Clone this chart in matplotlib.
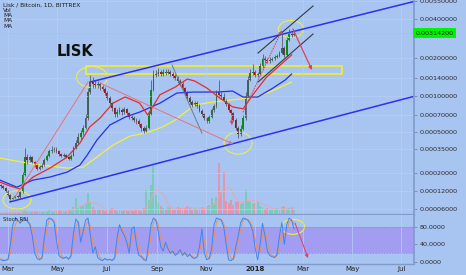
import numpy as np
import pandas as pd
import matplotlib
matplotlib.use("Agg")
import matplotlib.pyplot as plt
import matplotlib.transforms as mtransforms
from matplotlib.patches import Ellipse, Rectangle
from matplotlib.ticker import NullLocator

W, H, DPI = 466, 275, 100
BG = "#a8c4f1"

# ---------------- data (x = days since 2017-03-01) ----------------
first_day = -9          # first candle (20 Feb 2017)
step_days = 3           # one candle every 3 days
first_open = 0.000142
closes = [
    0.000138, 0.00013, 0.00012, 0.000105, 0.000092, 0.000095, 0.0001, 0.000098, 0.000115, 0.00019,
    0.00029, 0.00027, 0.00029, 0.00026, 0.00024, 0.00022, 0.00023, 0.00024, 0.00027, 0.0003,
    0.00033, 0.00034, 0.00035, 0.00033, 0.00031, 0.0003, 0.000302, 0.00029, 0.00028, 0.0003,
    0.00036, 0.0004, 0.00045, 0.00049, 0.00054, 0.00066, 0.00109, 0.00131, 0.00127, 0.00124,
    0.00127, 0.00119, 0.00115, 0.00107, 0.00097, 0.00088, 0.0008, 0.00071, 0.00074, 0.00077,
    0.00074, 0.00078, 0.00073, 0.00068, 0.00066, 0.00064, 0.00062, 0.00059, 0.00054, 0.00051,
    0.00054, 0.00071, 0.00113, 0.00149, 0.00151, 0.00157, 0.00151, 0.00157, 0.00154, 0.00157,
    0.00151, 0.00146, 0.00141, 0.00133, 0.00126, 0.00117, 0.00107, 0.00097, 0.0009, 0.00085,
    0.00088, 0.00083, 0.00076, 0.00071, 0.00066, 0.00062, 0.00068, 0.00077, 0.00083, 0.00108,
    0.00103, 0.00099, 0.00094, 0.00087, 0.00077, 0.00073, 0.00064, 0.00054, 0.00048, 0.00053,
    0.00066, 0.001, 0.00136, 0.00154, 0.00157, 0.00149, 0.00151, 0.00175, 0.002, 0.00195,
    0.00192, 0.00195, 0.00198, 0.00205, 0.00209, 0.00221, 0.00241, 0.00213, 0.0028, 0.0031,
    0.00305, 0.003142]
highs = [
    0.000148, 0.000141, 0.000133, 0.000122, 0.000108, 0.000099, 0.000104, 0.000106, 0.00012, 0.000205,
    0.00036, 0.00031, 0.000305, 0.000298, 0.000268, 0.000248, 0.000242, 0.000252, 0.000282, 0.000315,
    0.00035, 0.00037, 0.000365, 0.000362, 0.000342, 0.000322, 0.000318, 0.000312, 0.000298, 0.000312,
    0.000375, 0.00042, 0.00049, 0.00052, 0.00058, 0.00072, 0.00118, 0.00148, 0.00142, 0.00136,
    0.00134, 0.00131, 0.00124, 0.00119, 0.00111, 0.001, 0.0009, 0.00082, 0.00079, 0.00082,
    0.0008, 0.00082, 0.0008, 0.00075, 0.0007, 0.00069, 0.00066, 0.00065, 0.0006, 0.00056,
    0.00058, 0.00076, 0.00135, 0.00162, 0.00164, 0.00168, 0.00163, 0.00167, 0.00165, 0.00166,
    0.00162, 0.00157, 0.0015, 0.00145, 0.00137, 0.0013, 0.0012, 0.0011, 0.001, 0.00093,
    0.00092, 0.00091, 0.00086, 0.00078, 0.00073, 0.00068, 0.0007, 0.0008, 0.00087, 0.00112,
    0.00135, 0.00108, 0.00106, 0.00096, 0.00089, 0.00079, 0.00075, 0.00066, 0.00056, 0.00058,
    0.0007, 0.00108, 0.00145, 0.00165, 0.0018, 0.00162, 0.00158, 0.00185, 0.00215, 0.00208,
    0.00202, 0.00204, 0.00207, 0.00214, 0.00218, 0.0023, 0.0031, 0.00248, 0.00295, 0.00335,
    0.00322, 0.00325]
lows = [
    0.000132, 0.000126, 0.000116, 0.0001, 0.000088, 0.00009, 0.000093, 0.000095, 0.000096, 0.000112,
    0.000185, 0.00025, 0.000262, 0.000252, 0.000232, 0.000212, 0.000215, 0.000224, 0.000236, 0.000265,
    0.000292, 0.000322, 0.000328, 0.00032, 0.0003, 0.00029, 0.00029, 0.000282, 0.00027, 0.000274,
    0.000295, 0.000352, 0.000392, 0.00043, 0.00047, 0.00053, 0.00064, 0.00104, 0.00118, 0.00116,
    0.00117, 0.00113, 0.0011, 0.00102, 0.00093, 0.00085, 0.00076, 0.00068, 0.00068, 0.00071,
    0.0007, 0.00072, 0.0007, 0.00065, 0.00063, 0.00061, 0.00059, 0.00056, 0.00051, 0.00049,
    0.0005, 0.00053, 0.0007, 0.0011, 0.00142, 0.00146, 0.00145, 0.00147, 0.00148, 0.0015,
    0.00146, 0.0014, 0.00136, 0.00128, 0.00121, 0.00113, 0.00103, 0.00094, 0.00087, 0.00082,
    0.00083, 0.0008, 0.00074, 0.00069, 0.00064, 0.0006, 0.0006, 0.00066, 0.00075, 0.00081,
    0.001, 0.00096, 0.00091, 0.00084, 0.00075, 0.0007, 0.00062, 0.00052, 0.00044, 0.00046,
    0.00052, 0.00064, 0.00098, 0.00132, 0.00148, 0.00142, 0.00143, 0.00148, 0.0017, 0.00186,
    0.00184, 0.00186, 0.0019, 0.00193, 0.002, 0.00205, 0.00218, 0.00205, 0.0021, 0.00272,
    0.00295, 0.003]
volumes = [
    2, 2, 3, 2, 3, 2, 3, 2, 3, 4, 5,
    4, 3, 3, 4, 3, 3, 4, 3, 4, 5, 4, 3, 4, 5, 4, 3, 4, 5, 6,
    8, 17, 7, 9, 10, 12, 22, 13,
    8, 6, 5, 6, 5, 4, 5, 6, 7, 5, 4, 5, 4, 5, 4, 4, 5, 4, 6, 5, 4, 7,
    25, 15, 30, 50, 20, 12,
    9, 7, 6, 8, 7, 6, 5, 8, 7, 6, 7, 9, 8, 6, 7, 5, 6, 8, 7, 9,
    10, 17, 12, 18, 52, 23, 43, 14, 12, 15, 10, 13, 14, 11, 12, 25, 14,
    13, 11, 12, 13, 9,
    8, 6, 7, 5, 6, 5, 7, 6, 8, 9, 6, 7, 8, 6]
stoch_k = [
    5, 3, 4, 6, 40, 85, 100, 95, 88, 96, 100, 92, 85, 60, 20, 8, 5, 10, 55, 95,
    100, 98, 90, 50, 15, 10, 8, 12, 6, 15, 65, 98, 90, 45, 70, 95, 100, 60, 20, 35,
    10, 5, 3, 8, 4, 6, 3, 10, 55, 85, 70, 60, 45, 20, 75, 80, 40, 15, 12, 5,
    3, 40, 85, 100, 95, 70, 35, 25, 45, 30, 20, 25, 15, 20, 28, 15, 22, 12, 18, 10,
    8, 12, 35, 75, 20, 5, 8, 30, 85, 100, 98, 95, 80, 40, 5, 3, 8, 35, 60, 90,
    100, 98, 95, 85, 70, 30, 5, 40, 88, 60, 25, 15, 12, 10, 18, 60, 90, 40, 85, 100,
    95, 75]
stoch_d = [
    8, 5, 4, 5, 20, 55, 85, 95, 92, 92, 97, 95, 88, 75, 45, 20, 8, 7, 30, 75,
    97, 98, 95, 75, 38, 15, 10, 10, 9, 10, 40, 80, 93, 70, 60, 80, 95, 82, 45, 32,
    22, 10, 5, 6, 6, 5, 5, 6, 30, 70, 78, 65, 55, 35, 45, 75, 62, 30, 15, 9,
    5, 20, 60, 90, 97, 85, 55, 35, 38, 35, 25, 23, 20, 18, 22, 20, 18, 17, 15, 13,
    10, 10, 22, 55, 50, 15, 7, 18, 55, 90, 98, 97, 88, 62, 25, 8, 5, 20, 45, 75,
    95, 99, 97, 90, 78, 52, 20, 22, 62, 75, 45, 22, 15, 12, 14, 38, 75, 62, 65, 92,
    97, 85]

ma_red_days = [-10, 3, 15, 31, 52, 73, 89, 101, 114, 130, 145, 163, 173, 188, 207, 222, 231,
               246, 262, 278, 291, 303, 320, 337, 351]
ma_red = [0.000155, 0.000138, 0.000127, 0.000178, 0.000224, 0.00029, 0.000396, 0.000552, 0.00066,
          0.00088, 0.00099, 0.00088, 0.0007, 0.00103, 0.00119, 0.00138, 0.00133, 0.00117, 0.00097,
          0.00082, 0.00079, 0.00103, 0.00143, 0.00178, 0.00213]
ma_blue_days = [-10, 11, 31, 52, 73, 89, 98, 110, 126, 145, 163, 188, 209, 229, 259, 278, 291,
                309, 328, 343, 351]
ma_blue = [0.000164, 0.000134, 0.000164, 0.000178, 0.000202, 0.000241, 0.000304, 0.000422,
           0.000575, 0.000673, 0.000742, 0.00088, 0.001065, 0.001085, 0.001085, 0.001105,
           0.000988, 0.000988, 0.001169, 0.001354, 0.001511]
ma_yellow_days = [-10, 31, 73, 93, 105, 130, 151, 170, 191, 207, 231, 254, 287, 306, 324, 351]
ma_yellow = [0.000284, 0.000247, 0.000224, 0.000229, 0.000271, 0.000379, 0.000459, 0.000488,
             0.000552, 0.000635, 0.00085, 0.000899, 0.000952, 0.000988, 0.001085, 0.001305]

last_price = 0.003142
price_ticks = [0.0055, 0.004, 0.002, 0.0014, 0.001, 0.0007, 0.0005, 0.00035, 0.0002, 0.00012, 0.00006]
stoch_ticks = [0, 40, 80]
month_days = [0, 61, 122, 184, 245, 306, 365, 426, 487]
month_labels = ["Mar", "May", "Jul", "Sep", "Nov", "2018", "Mar", "May", "Jul"]

# drawings (day, price)
channel_upper = ([101.5, 502.5], [0.001305, 0.005453])
channel_lower = ([2.5, 502.5], [0.000082, 0.001001])
zone_days = (96.5, 413.4)
zone_prices = (0.001511, 0.001747)
black_upper = ([309.4, 377.5], [0.002205, 0.005041])
black_lower = ([309.4, 377.5], [0.001305, 0.003088])
gray_line = ([203, 240], [0.001779, 0.000488])
pink_up = ((6.2, 0.000088), (99.0, 0.001305))
pink_down = ((113.9, 0.001281), (278.5, 0.000388))
red_small = ((277, 0.000673), (277, 0.000575))
red_dotted = ((291, 0.000742), (339, 0.0033))
red_big = ((352.7, 0.003372), (376.2, 0.001625))
stoch_arrow = ((355.2, 89), (371.3, 9))
ellipses = [(11.1, 0.000088, 28, 18), (104, 0.00143, 31, 21), (284.7, 0.000396, 28, 22),
            (350.2, 0.00337, 25, 17)]
stoch_ellipse = (352.7, 80, 23, 15)

# ---------------- figure ----------------
fig = plt.figure(figsize=(W / DPI, H / DPI), dpi=DPI, facecolor=BG)
def fy(py):
    return 1 - py / H
main_rect = [0, fy(215), 414 / W, 215 / H]
stoch_rect = [0, fy(264), 414 / W, 49 / H]
XL = (-9.9, 502.5)

ax_vol = fig.add_axes(main_rect)
ax_vol.set_axis_off()
ax = fig.add_axes(main_rect)
ax.patch.set_alpha(0)
ax2 = fig.add_axes(stoch_rect, facecolor=BG)

days = first_day + step_days * np.arange(len(closes))
c = np.array(closes)
o = np.array([first_open] + closes[:-1])
up = c >= o

# volume
vcol = np.where(up, "#78cdb6", "#e594ad")
ax_vol.bar(days, volumes, width=2.4, color=vcol, alpha=0.95, lw=0)
vma = pd.Series(volumes).rolling(6, min_periods=1).mean()
ax_vol.plot(days, vma, color="#eea3a8", lw=0.7, alpha=0.8)
ax_vol.set_ylim(0, 215)
ax_vol.set_xlim(*XL)

# price scale
fwd = lambda p: np.log10(np.asarray(p, dtype=float) + 0.0001)
inv = lambda v: 10 ** np.asarray(v, dtype=float) - 0.0001
ax.set_yscale("function", functions=(fwd, inv))
ax.set_ylim(0.0000455, 0.005595)
ax.set_xlim(*XL)

ax.set_xticks(month_days)
ax.tick_params(axis="x", length=0, labelbottom=False)
ax.yaxis.tick_right()
ax.set_yticks(price_ticks)
ax.set_yticklabels(["%.8f" % t for t in price_ticks])
ax.yaxis.set_minor_locator(NullLocator())
ax.tick_params(axis="y", length=2, width=0.6, color="#6f86b8", pad=2,
               labelsize=4.6, labelcolor="#2b2b2b")
ax.grid(True, color="#b7cff6", lw=0.5)
for s in ["top", "left"]:
    ax.spines[s].set_visible(False)
ax.spines["right"].set_color("#8199cb")
ax.spines["right"].set_linewidth(1.2)
ax.spines["bottom"].set_color("#8199cb")
ax.spines["bottom"].set_linewidth(1.6)

ax.axhline(last_price, color="#7fd8e4", lw=0.6)

# channel + zone
ax.plot(*channel_upper, color="#2f2ff0", lw=1.1)
ax.plot(*channel_lower, color="#2f2ff0", lw=1.1)
ax.add_patch(Rectangle((zone_days[0], zone_prices[0]), zone_days[1] - zone_days[0],
                       zone_prices[1] - zone_prices[0], fill=False, ec="#f3ef2e", lw=1.2))

# moving averages
ax.plot(ma_yellow_days, ma_yellow, color="#f4f03a", lw=0.9)
ax.plot(ma_blue_days, ma_blue, color="#2430e6", lw=0.9)
ax.plot(ma_red_days, ma_red, color="#ea2a2a", lw=0.9)

# candles
ax.vlines(days, lows, highs, color="#4f5560", lw=0.55)
ccol = np.where(up, "#0f8a19", "#9b1620")
ax.bar(days, np.abs(c - o), bottom=np.minimum(o, c), width=2.3, color=ccol, lw=0)

# drawings
ax.plot(*gray_line, color="#6f7a8a", lw=0.7)
ax.plot(*black_upper, color="#333a44", lw=0.8)
ax.plot(*black_lower, color="#333a44", lw=0.8)

def arrow(a, start, end, color, ls="-", lw=0.7):
    a.annotate("", xy=end, xytext=start,
               arrowprops=dict(arrowstyle="-|>", color=color, lw=lw, ls=ls,
                               mutation_scale=5, shrinkA=0, shrinkB=0))

ax.plot([pink_up[0][0], pink_up[1][0]], [pink_up[0][1], pink_up[1][1]], color="#e7737f", lw=0.7)
arrow(ax, pink_down[0], pink_down[1], "#e7737f")
arrow(ax, red_small[0], red_small[1], "#e2405a")
arrow(ax, red_dotted[0], red_dotted[1], "#e2405a", ls=":")
arrow(ax, red_big[0], red_big[1], "#e2405a", lw=0.9)

for (d, p, w, h) in ellipses:
    tr = mtransforms.Affine2D() + mtransforms.ScaledTranslation(d, p, ax.transData)
    ax.add_patch(Ellipse((0, 0), w, h, fill=False, ec="#f0ee44", lw=0.8, transform=tr))

ax.text(1.004, last_price, "0.00314200", transform=mtransforms.blended_transform_factory(ax.transAxes, ax.transData),
        ha="left", va="center", fontsize=4.6, color="#111",
        bbox=dict(boxstyle="square,pad=0.35", fc="#00f400", ec="none"), clip_on=False)

# ---------------- stoch rsi ----------------
ax2.set_xlim(*XL)
ax2.set_ylim(-4.6, 107)
ax2.axhspan(20, 80, color="#a29df0", lw=0)
ax2.axhline(80, color="#8a86c8", lw=0.5, ls=(0, (2, 2)))
ax2.axhline(20, color="#8a86c8", lw=0.5, ls=(0, (2, 2)))
ax2.plot(days, stoch_d, color="#ef8f5c", lw=0.7)
ax2.plot(days, stoch_k, color="#3e86f2", lw=0.7)
arrow(ax2, stoch_arrow[0], stoch_arrow[1], "#e2405a")
d, v, w, h = stoch_ellipse
tr = mtransforms.Affine2D() + mtransforms.ScaledTranslation(d, v, ax2.transData)
ax2.add_patch(Ellipse((0, 0), w, h, fill=False, ec="#f0ee44", lw=0.8, transform=tr))

ax2.yaxis.tick_right()
ax2.set_yticks(stoch_ticks)
ax2.set_yticklabels(["%.4f" % t for t in stoch_ticks])
ax2.tick_params(axis="y", length=2, width=0.6, color="#6f86b8", pad=2,
                labelsize=4.6, labelcolor="#2b2b2b")
ax2.set_xticks(month_days)
ax2.set_xticklabels(month_labels)
ax2.tick_params(axis="x", length=0, pad=1.5, labelsize=5, labelcolor="#222")
for lab in ax2.get_xticklabels():
    if lab.get_text() == "2018":
        lab.set_fontweight("bold")
ax2.grid(True, axis="x", color="#b7cff6", lw=0.5)
ax2.spines["top"].set_visible(False)
ax2.spines["left"].set_visible(False)
ax2.spines["right"].set_color("#8199cb")
ax2.spines["right"].set_linewidth(1.2)
ax2.spines["bottom"].set_color("#8199cb")
ax2.spines["bottom"].set_linewidth(1.0)

# ---------------- texts ----------------
fig.text(3 / W, fy(5), "Lisk / Bitcoin, 1D, BITTREX", fontsize=4.2, color="#1d1d1d", va="center")
for k, t in enumerate(["Vol", "MA", "MA", "MA"]):
    fig.text(3 / W, fy(10.3 + 5.3 * k), t, fontsize=4.2, color="#1d1d1d", va="center")
fig.text(57 / W, fy(51), "LISK", fontsize=10.5, fontweight="bold", color="#111", va="center")
fig.text(3 / W, fy(219.5), "Stoch RSI", fontsize=3.8, color="#1d1d1d", va="center")

fig.savefig("out.png", dpi=DPI, facecolor=BG)
